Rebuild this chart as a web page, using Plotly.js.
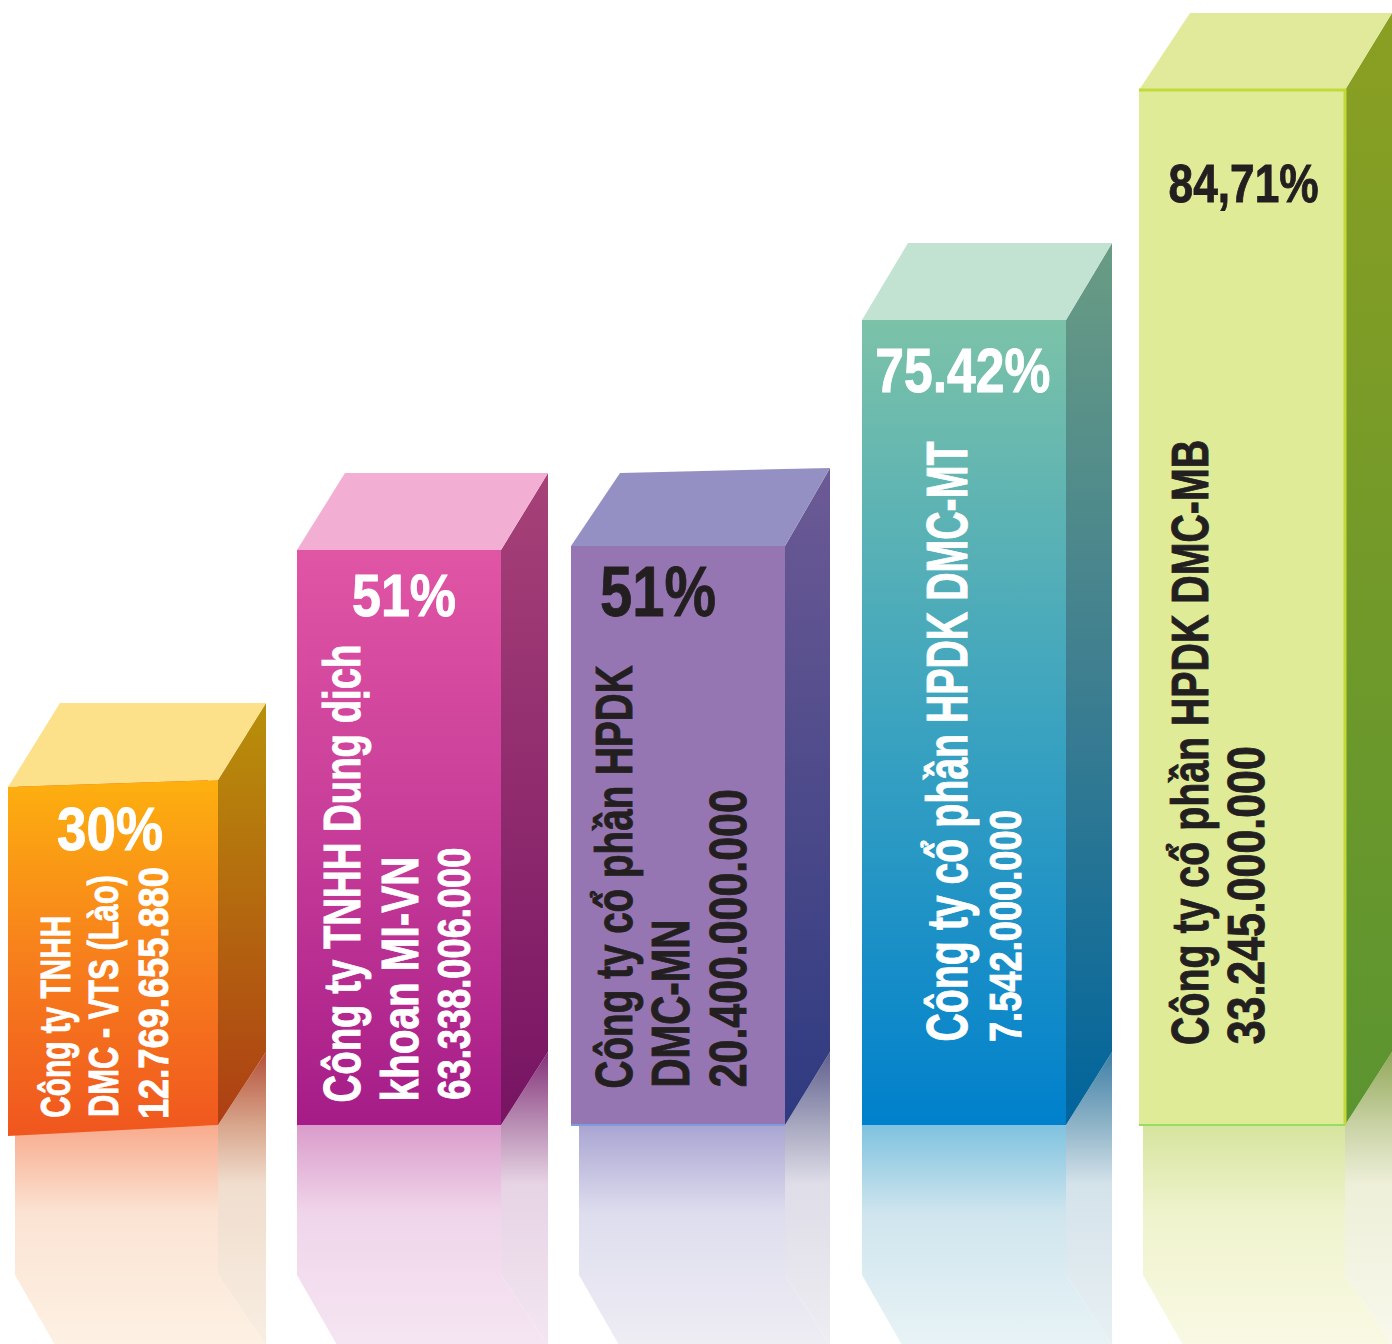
<!DOCTYPE html>
<html><head><meta charset="utf-8">
<script src="https://cdn.plot.ly/plotly-3.0.1.min.js"></script>
<style>html,body{margin:0;padding:0;background:#fff}#c{width:1392px;height:1344px}</style>
</head><body><div id="c"></div>
<script>
// ---------- data ----------
const percents   = ["30%", "51%", "51%", "75.42%", "84,71%"];
const companies  = [
  ["Công ty TNHH", "DMC - VTS (Lào)"],
  ["Công ty TNHH Dung dịch", "khoan MI-VN"],
  ["Công ty cổ phần HPDK", "DMC-MN"],
  ["Công ty cổ phần HPDK DMC-MT"],
  ["Công ty cổ phần HPDK DMC-MB"]
];
const capitals   = ["12.769.655.880", "63.338.006.000", "20.400.000.000", "7.542.000.000", "33.245.000.000"];
const barHeights = [345, 575, 579, 805, 1035];

// ---------- layout of the drawing ----------
const H = 1344, BASE = 1125;                 // plot height, baseline pixel row
const yOf = px => BASE - px;                 // pixel row -> axis value
const barLeft  = [8, 297, 571, 862, 1139];
const barRight = [218, 501, 785, 1066, 1345];
const depthX = [48, 47, 45, 46, 47], depthY = 77, sideFoot = 73;
const backLeft = [52, 48, 49, 46, 51];
const frontDrop = [11, 0, 0, 0, 0], topDrop = [7, 0, 0, 0, 0];
const reflInset = [7, 0, 8, 0, 4];
const backLeftDrop = [0, 0, 4, 0, 0], backRightRise = [0, 0, 1, 0, 0];
const SL = 1275;

const frontCS = [
  [[0,'#F0561F'],[0.5,'#F77F1C'],[1,'#FDB00F']],
  [[0,'#A51C88'],[0.5,'#C73C98'],[1,'#E055A4']],
  [[0,'#9676B2'],[1,'#9676B2']],
  [[0,'#0080CC'],[0.5,'#3BA3C0'],[1,'#7CC2A8']],
  [[0,'#DFEB97'],[1,'#DFEB97']]
];
const sideCS = [
  [[0,'#AE3E14'],[1,'#B8900A']],
  [[0,'#771463'],[1,'#A74178']],
  [[0,'#2E3A80'],[1,'#6C5A95']],
  [[0,'#00649C'],[0.5,'#3D7E90'],[1,'#6A9C84']],
  [[0,'#5B9430'],[1,'#8A9F22']]
];
const topColors = ['#FDE08A','#F3AFD3','#9590C4','#C3E3D2','#E1EA9A'];
const reflCS = [
  [[0,'#FDF1E3'],[0.6,'#FBE3D3'],[1,'#F8AB8D']],
  [[0,'#F5E5F2'],[0.6,'#F0D5EA'],[1,'#DA9CCB']],
  [[0,'#EEEDF4'],[0.6,'#DEDDEE'],[1,'#A9A5D2']],
  [[0,'#E8F3F6'],[0.6,'#CFE5EE'],[1,'#7FC2DF']],
  [[0,'#F9F9E4'],[0.6,'#EFF3CC'],[1,'#D6E49E']]
];
const reflSideCS = [
  [[0,'#F8EEE2'],[0.55,'#F0DDCE'],[0.75,'#D8A68C'],[1,'#B5503A']],
  [[0,'#F3E6F1'],[0.55,'#E6D3E4'],[0.75,'#BA90B5'],[1,'#85327A']],
  [[0,'#EEEDF2'],[0.55,'#DEDDE8'],[0.75,'#A8A8C0'],[1,'#60608F']],
  [[0,'#E8F0F3'],[0.55,'#D4E2EA'],[0.75,'#8FB4C8'],[1,'#3F7FA5']],
  [[0,'#F8F8EC'],[0.55,'#EDEFD8'],[0.75,'#C9D2A5'],[1,'#93A85A']]
];
const textColors = ['#FFFFFF','#FFFFFF','#231F20','#FFFFFF','#231F20'];

const FONT = '"Liberation Sans",Arial,sans-serif';
const pctX = [110, 404, 658, 963, 1243], pctY = [828, 596, 592, 370, 183];
const pctSize = [62, 59, 70, 63, 54], pctLen = [106, 104, 116, 175, 150];
const lineX = [[54.5,102.5,152.5],[342,399,453],[613,670,728],[947,1005],[1189,1246]];
const lineEnd = [[1118,1117,1119],[1103,1102,1100],[1088,1088,1088],[1042,1042],[1045,1045]];
const lineTop = [[916,875,867],[645,857,848],[665,920,790],[442,810],[440,747]];
const lineSize = [[43,43,43],[52,52,47],[52,54,52],[57,45],[52,52]];

function poly(xs, ys, grad, color){
  const t = {type:'scatter', mode:'lines', x:xs.concat(xs[0]), y:ys.concat(ys[0]).map(yOf),
             line:{width:0}, fill:'toself', hoverinfo:'skip', showlegend:false};
  if (grad) t.fillgradient = {type:'vertical', colorscale:grad};
  else t.fillcolor = color;
  return t;
}
function edge(xs, ys, color, w){
  return {type:'scatter', mode:'lines', x:xs, y:ys.map(yOf), line:{color:color,width:w}, hoverinfo:'skip', showlegend:false};
}

const traces = [], annotations = [], textLengths = [], textInks = [];
// base bars, driven by the values through the axis
const INSET = 20;
traces.push({type:'bar', x:barLeft.map((l,i)=>(l+barRight[i])/2), y:barHeights,
  width:barLeft.map((l,i)=>barRight[i]-l-INSET), marker:{color:frontCS.map(c=>c[0][1]),line:{width:0}},
  hoverinfo:'skip', showlegend:false});

barHeights.forEach((h,i)=>{
  const L = barLeft[i], R = barRight[i], T = BASE - h, B = BASE + frontDrop[i];
  const dx = depthX[i], RX = R + dx, BT = T - depthY - backRightRise[i];
  const L2 = L + reflInset[i];
  // reflection
  traces.push(poly([L2,R,R,R+dx,L2+40,L2],[BASE+frontDrop[i]/2,BASE,SL,H+1,H+1,SL],reflCS[i]));
  traces.push(poly([R,RX,RX,R+dx,R],[BASE,BASE-sideFoot,H+1,H+1,SL],reflSideCS[i]));
  // side
  traces.push(poly([R,RX,RX,R],[T,BT,BASE-sideFoot,BASE],sideCS[i]));
  // top
  traces.push(poly([L,L+backLeft[i],RX,R],[T+topDrop[i],T-depthY+backLeftDrop[i],BT,T],null,topColors[i]));
  // front
  traces.push(poly([L,R,R,L],[T+topDrop[i],T,BASE,B],frontCS[i]));

  annotations.push({text:percents[i], x:pctX[i], y:yOf(pctY[i]), xanchor:'center', yanchor:'middle',
    showarrow:false, font:{family:FONT,size:pctSize[i],color:textColors[i],weight:700}});
  textLengths.push(pctLen[i]); textInks.push(textColors[i]);
  companies[i].concat(capitals[i]).forEach((txt,j)=>{
    annotations.push({text:txt, x:lineX[i][j], y:yOf((lineEnd[i][j]+lineTop[i][j])/2), xanchor:'center', yanchor:'middle',
      textangle:-90, showarrow:false, font:{family:FONT,size:lineSize[i][j],color:textColors[i],weight:700}});
    textLengths.push(lineEnd[i][j]-lineTop[i][j]); textInks.push(textColors[i]);
  });
});
// fine edges
traces.push(edge([1139,1345,1345],[90,90,BASE],'#C3D93A',3));
traces.push(edge([1139,1345],[BASE,BASE],'#97DC66',2));
traces.push(edge([571,785],[BASE,BASE],'#7F9BDB',2));

Plotly.newPlot('c', traces, {
  width:1392, height:H, margin:{l:0,r:0,t:0,b:0},
  paper_bgcolor:'#fff', plot_bgcolor:'#fff', barmode:'overlay', showlegend:false,
  xaxis:{range:[0,1392],visible:false,fixedrange:true},
  yaxis:{range:[yOf(H),yOf(0)],visible:false,fixedrange:true},
  annotations:annotations
},{displayModeBar:false,staticPlot:true}).then(gd=>{
  // condensed heavy type: the page has no narrow face, so the real text is squeezed to its measured length
  document.querySelectorAll('#c .annotation-text').forEach((el,k)=>{
    el.setAttribute('textLength', textLengths[k]);
    el.setAttribute('lengthAdjust', 'spacingAndGlyphs');
    el.style.stroke = textInks[k];
    el.style.strokeWidth = '0.9px';
  });
});
</script></body></html>
